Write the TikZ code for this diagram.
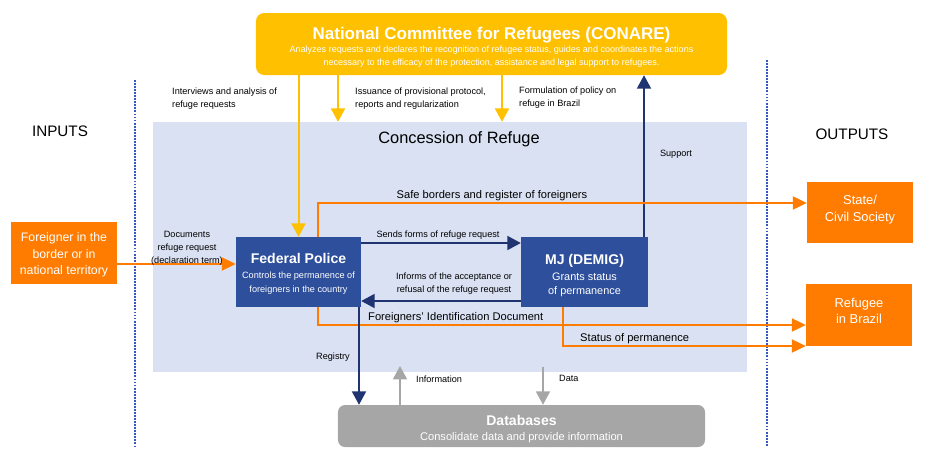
\documentclass[tikz,border=0pt]{standalone}
\usepackage{fontspec}
\setmainfont{Liberation Sans}
\usetikzlibrary{arrows.meta}
\definecolor{conyellow}{HTML}{FFC000}
\definecolor{agorange}{HTML}{FF7C00}
\definecolor{polblue}{HTML}{2D4F9C}
\definecolor{navyline}{HTML}{1F3470}
\definecolor{areablue}{HTML}{D9E1F2}
\definecolor{dbgray}{HTML}{A6A6A6}
\definecolor{sepblue}{HTML}{3559BD}
\begin{document}
\begin{tikzpicture}[x=0.03cm, y=-0.03cm,
  headbox/.style={fill=conyellow, rounded corners=7pt, minimum width=14.13cm, minimum height=1.86cm,
                  align=center, text=white, inner sep=0pt},
  polbox/.style={fill=polblue, minimum height=2.1cm, align=center, text=white, inner sep=0pt},
  agentbox/.style={fill=agorange, minimum width=3.18cm, align=center, text=white, inner sep=0pt},
  dbbox/.style={fill=dbgray, rounded corners=6pt, minimum width=11.01cm, minimum height=1.26cm,
                align=center, text=white, inner sep=0pt},
  lab/.style={font=\fontsize{7.8}{11}\selectfont, inner sep=0pt, align=left},
  midlab/.style={font=\fontsize{9.5}{11}\selectfont, inner sep=0pt},
  sep/.style={draw=sepblue, dash pattern=on 1.6pt off 1pt, line width=0.9pt},
  yarr/.style={draw=conyellow, line width=1.7pt, -{Triangle[length=4mm, width=4.2mm]}},
  narr/.style={draw=navyline, line width=1.3pt, -{Triangle[length=4mm, width=4.2mm]}},
  oarr/.style={draw=agorange, line width=1pt, -{Triangle[length=4.2mm, width=4mm]}},
  garr/.style={draw=dbgray, line width=1.3pt, -{Triangle[length=4mm, width=4.2mm]}},
]
\useasboundingbox (0,0) rectangle (926,465);

% Concession area and separators
\node[fill=areablue, minimum width=17.82cm, minimum height=7.5cm, inner sep=0pt] (conc) at (450,247) {};
\node[font=\fontsize{14}{16}\selectfont] (conctitle) at (459,139) {Concession of Refuge};
\draw[sep] (135,80) -- (135,446);
\draw[sep] (767,60) -- (767,446);
\node[font=\fontsize{13}{15}\selectfont] (inputs) at (60,131) {INPUTS};
\node[font=\fontsize{13}{15}\selectfont] (outputs) at (852,134) {OUTPUTS};

% Top: CONARE
\node[headbox] (conare) at (491.5,44) {\rule{0pt}{16pt}{\fontsize{14.5}{17}\selectfont\bfseries National Committee for Refugees (CONARE)}\\[-1pt]
  {\fontsize{7.7}{11}\selectfont Analyzes requests and declares the recognition of refugee status, guides and coordinates the actions}\\[-0.5pt]
  {\fontsize{7.7}{11}\selectfont necessary to the efficacy of the protection, assistance and legal support to refugees.}};

% Middle: Federal Police and MJ
\node[polbox, minimum width=3.75cm] (fp) at (298.5,272) {\rule{0pt}{12pt}{\fontsize{12}{14}\selectfont\bfseries Federal Police}\\[0.5pt]
  {\fontsize{7.8}{10}\selectfont Controls the permanence of}\\
  {\fontsize{7.8}{10}\selectfont foreigners in the country}};
\node[polbox, minimum width=3.81cm] (mj) at (584.5,272) {\rule{0pt}{15pt}{\fontsize{12}{14}\selectfont\bfseries MJ (DEMIG)}\\[2pt]
  {\fontsize{9.3}{11}\selectfont Grants status}\\
  {\fontsize{9.3}{11}\selectfont of permanence}};

% Inputs and outputs
\node[agentbox, minimum height=1.86cm, font=\fontsize{10.5}{14}\selectfont] (foreigner) at (64,253)
  {\rule{0pt}{11pt}Foreigner in the\\border or in\\national territory};
\node[agentbox, minimum height=1.83cm, font=\fontsize{11}{14.5}\selectfont] (state) at (860,212.5)
  {State/\\Civil Society\rule[-7pt]{0pt}{0pt}};
\node[agentbox, minimum height=1.86cm, font=\fontsize{11}{14}\selectfont] (refugee) at (859,315)
  {Refugee\\in Brazil\rule[-7pt]{0pt}{0pt}};

% Bottom: Databases
\node[dbbox] (db) at (521.5,426) {\rule{0pt}{14pt}{\fontsize{12}{14}\selectfont\bfseries Databases}\\[1.5pt]
  {\fontsize{9.5}{11}\selectfont Consolidate data and provide information}};

% Column positions of the connectors
\coordinate (iss) at (338,0);
\coordinate (form) at (502,0);
\coordinate (supx) at (644,0);
\coordinate (fpx) at (318,0);
\coordinate (regx) at (359,0);
\coordinate (mjx) at (563,0);
\coordinate (infx) at (400,0);
\coordinate (datx) at (543,0);
\coordinate (inrow) at (0,264);
\coordinate (saferow) at (0,203);
\coordinate (sendrow) at (0,243);
\coordinate (backrow) at (0,301);
\coordinate (fidrow) at (0,325);
\coordinate (statrow) at (0,346);
\coordinate (infotip) at (400,366);
\coordinate (datatail) at (543,367);

% CONARE arrows
\draw[yarr] (conare.south -| fp.north) -- (fp.north);
\draw[yarr] (conare.south -| iss) -- (conc.north -| iss);
\draw[yarr] (conare.south -| form) -- (conc.north -| form);
\draw[narr] (mj.north -| supx) -- (conare.south -| supx);
\node[lab, anchor=west] (lint) at (172,98.5) {Interviews and analysis of\\refuge requests};
\node[lab, anchor=west] (liss) at (355,98.5) {Issuance of provisional protocol,\\reports and regularization};
\node[lab, anchor=west] (lform) at (519,98) {Formulation of policy on\\refuge in Brazil};
\node[lab] (lsup) at (676,154) {Support};

% Request flow
\draw[oarr] (foreigner.east |- inrow) -- (fp.west |- inrow);
\node[lab, align=center] (ldoc) at (187,248) {Documents\\refuge request\\(declaration term)};
\draw[narr] (fp.east |- sendrow) -- (mj.west |- sendrow);
\node[lab] (lsend) at (438,235) {Sends forms of refuge request};
\draw[narr] (mj.west |- backrow) -- (fp.east |- backrow);
\node[lab, align=center] (linf) at (454,283.5) {Informs of the acceptance or\\refusal of the refuge request};

% Outputs
\draw[oarr] (fp.north -| fpx) |- (state.west |- saferow);
\node[midlab] (lsafe) at (492,196) {Safe borders and register of foreigners};
\draw[oarr] (fp.south -| fpx) |- (refugee.west |- fidrow);
\node[midlab, anchor=west] (lfid) at (368,318) {Foreigners' Identification Document};
\draw[oarr] (mj.south -| mjx) |- (refugee.west |- statrow);
\node[midlab, anchor=west] (lstat) at (580,339) {Status of permanence};

% Databases
\draw[narr] (fp.south -| regx) -- (db.north -| regx);
\node[lab, anchor=west] (lreg) at (316,357) {Registry};
\draw[garr] (db.north -| infx) -- (infotip);
\node[lab, anchor=west] (linfo) at (416,379) {Information};
\draw[garr] (datatail) -- (db.north -| datx);
\node[lab, anchor=west] (ldata) at (559,378) {Data};

\end{tikzpicture}
\end{document}
